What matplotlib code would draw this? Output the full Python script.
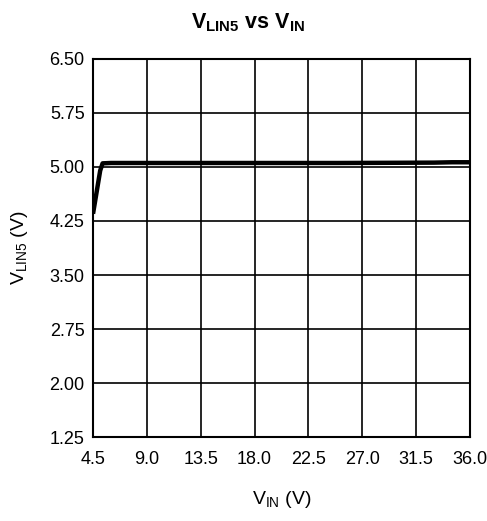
import matplotlib
matplotlib.use("Agg")
import matplotlib.pyplot as plt
import numpy as np

plt.rcParams['font.family'] = ['Liberation Sans', 'DejaVu Sans']
plt.rcParams['mathtext.fontset'] = 'custom'
plt.rcParams['mathtext.rm'] = 'Liberation Sans'
plt.rcParams['mathtext.bf'] = 'Liberation Sans:bold'

# V_LIN5 vs V_IN
vin = [4.5, 4.8, 5.1, 5.3, 6.0, 10.0, 15.0, 20.0, 25.0, 30.0, 33.0, 34.5, 36.0]
vlin5 = [4.35, 4.65, 4.95, 5.05, 5.055, 5.055, 5.055, 5.055, 5.055, 5.058, 5.06, 5.065, 5.065]

xticks = [4.5, 9.0, 13.5, 18.0, 22.5, 27.0, 31.5, 36.0]
yticks = [1.25, 2.00, 2.75, 3.50, 4.25, 5.00, 5.75, 6.50]

fig = plt.figure(figsize=(4.87, 5.21), dpi=100)
ax = fig.add_axes([0.191, 0.161, 0.774, 0.726])

ax.plot(vin, vlin5, color='black', linewidth=3.2, solid_capstyle='butt', zorder=3)

ax.set_xlim(4.5, 36.0)
ax.set_ylim(1.25, 6.50)
ax.set_xticks(xticks)
ax.set_yticks(yticks)
ax.set_xticklabels([f"{t:.1f}" for t in xticks], fontsize=13)
ax.set_yticklabels([f"{t:.2f}" for t in yticks], fontsize=13)
ax.tick_params(axis='x', length=0, pad=10)
ax.tick_params(axis='y', length=0, pad=6)
ax.grid(True, color='black', linewidth=1.2)
for s in ax.spines.values():
    s.set_linewidth(1.5)

ax.set_xlabel(r'V$_{\mathregular{IN}}$ (V)', fontsize=14, labelpad=15)
ax.set_ylabel(r'V$_{\mathregular{LIN5}}$ (V)', fontsize=14, labelpad=14)
fig.text(0.51, 0.957, r'V$_{\mathbf{LIN5}}$ vs V$_{\mathbf{IN}}$',
         fontsize=15.5, fontweight='bold', ha='center', va='center')

fig.savefig('out.png', dpi=100)
